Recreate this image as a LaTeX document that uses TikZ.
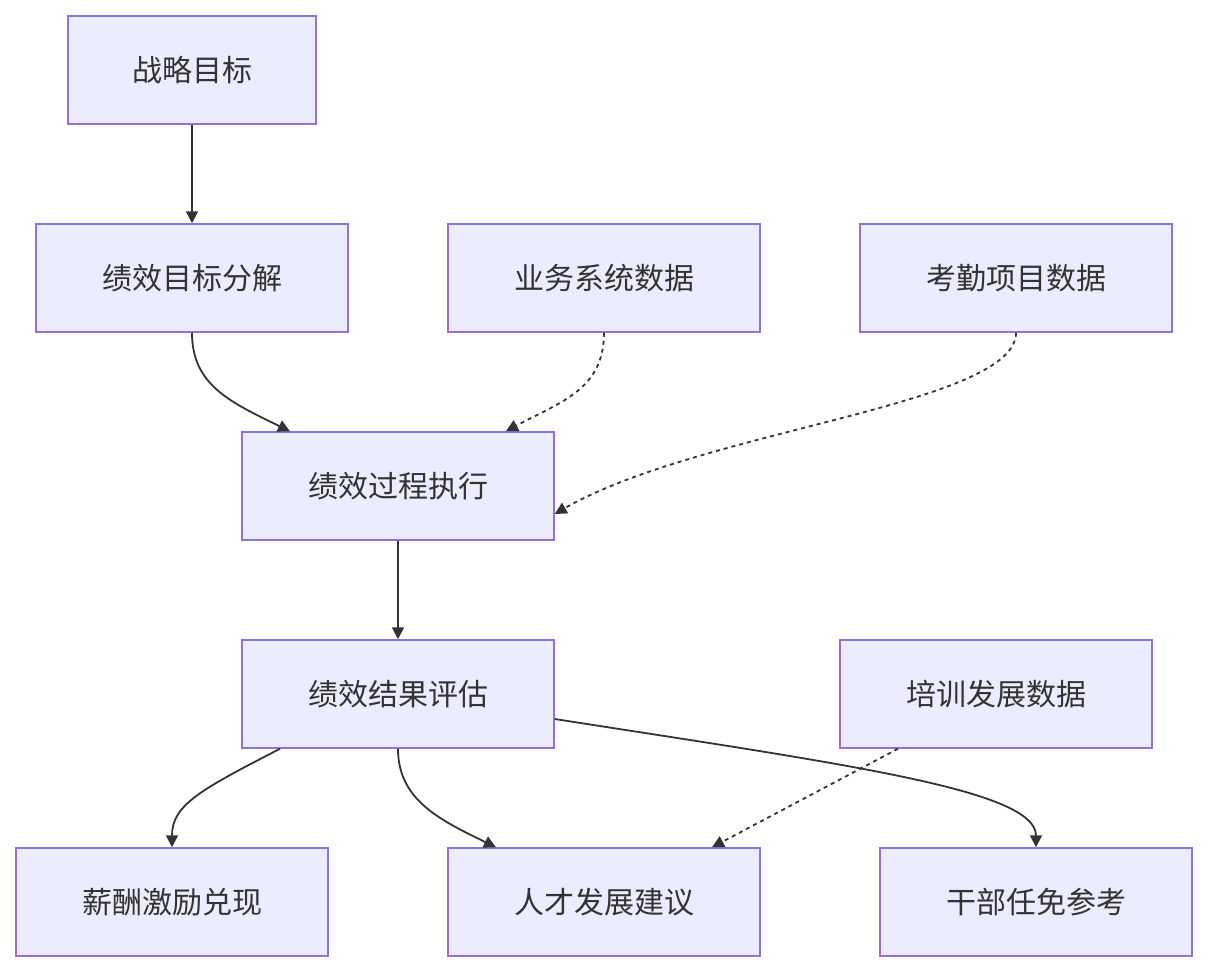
\documentclass[tikz,border=0pt]{standalone}
\usepackage{fontspec}
\newfontfamily\cjk{Noto Sans CJK SC}
\usetikzlibrary{arrows.meta}
\definecolor{nfill}{HTML}{ECECFF}
\definecolor{nstroke}{HTML}{9370DB}
\definecolor{ink}{HTML}{333333}
\begin{document}
\begin{tikzpicture}[x=1pt,y=-1pt,
  box/.style={draw=nstroke,fill=nfill,line width=1.5pt,minimum width=312pt,minimum height=108pt,inner sep=0pt,font=\cjk\fontsize{30}{36}\selectfont,text=ink},
  e/.style={draw=ink,line width=1.8pt,-{Triangle[length=12pt,width=12pt]}},
  d/.style={e,dash pattern=on 4pt off 4pt}]
\useasboundingbox (0,0) rectangle (1208,972);
\node[box,minimum width=248pt] (A) at (192,70) {战略目标};
\node[box] (B) at (192,278) {绩效目标分解};
\node[box] (C) at (604,278) {业务系统数据};
\node[box] (D) at (1016,278) {考勤项目数据};
\node[box] (E) at (398,486) {绩效过程执行};
\node[box] (F) at (398,694) {绩效结果评估};
\node[box] (G) at (996,694) {培训发展数据};
\node[box] (H) at (172,902) {薪酬激励兑现};
\node[box] (I) at (604,902) {人才发展建议};
\node[box] (J) at (1036,902) {干部任免参考};
\draw[e] (A.south) -- (B.north);
\draw[e] (B.south) .. controls (192,385) and (230,402) .. ([xshift=-108pt]E.north);
\draw[d] (C.south) .. controls (604,390) and (560,402) .. ([xshift=108pt]E.north);
\draw[d] (D.south) .. controls (1016,405) and (700,430) .. ([yshift=-28pt]E.east);
\draw[e] (E.south) -- (F.north);
\draw[e] ([xshift=-118pt]F.south) .. controls (200,790) and (172,805) .. (H.north);
\draw[e] (F.south) .. controls (398,800) and (440,820) .. ([xshift=-108pt]I.north);
\draw[e] ([yshift=-25pt]F.east) .. controls (850,765) and (1036,790) .. (J.north);
\draw[d] ([xshift=-98pt]G.south) -- ([xshift=108pt]I.north);
\end{tikzpicture}
\end{document}
